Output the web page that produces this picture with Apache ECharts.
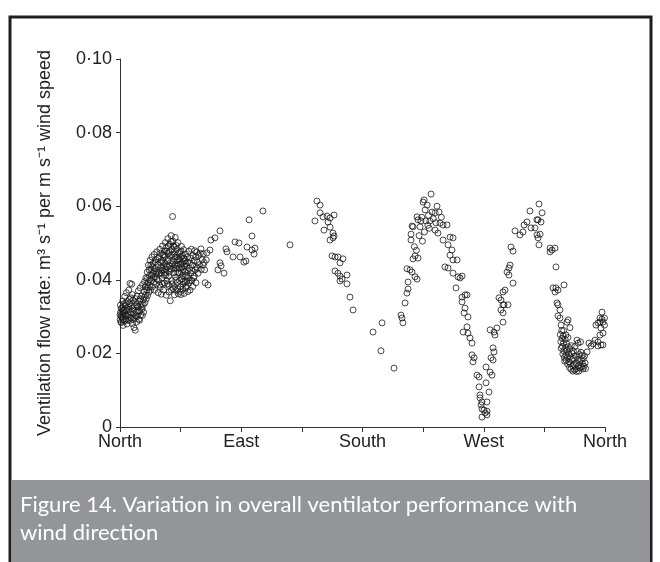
<!DOCTYPE html>
<html>
<head>
<meta charset="utf-8">
<script src="https://cdn.jsdelivr.net/npm/echarts@6/dist/echarts.min.js"></script>
<style>
  html, body { margin: 0; padding: 0; background: #fff; }
  #chart { width: 660px; height: 562px; }
</style>
</head>
<body>
<div id="chart"></div>
<script>
// Wind direction (degrees from North) and ventilation flow rate (m3/s per m/s wind speed)
const directionTicks = { 0: 'North', 90: 'East', 180: 'South', 270: 'West', 360: 'North' };

// Dense cluster just east of North
const northPoints = [
  [0.2, .0292], [0.5, .0312], [0.3, .0331], [0.8, .0301], [1.1, .0284], [1.4, .0323], [1.7, .0297],
  [2.0, .0342], [2.3, .0276], [2.6, .0309], [2.9, .0318], [3.3, .0288], [3.5, .0355], [3.8, .0330],
  [4.1, .0301], [4.4, .0293], [4.7, .0365], [5.0, .0316], [5.2, .0280], [5.6, .0341], [5.9, .0326],
  [6.2, .0305], [6.5, .0372], [6.9, .0289], [7.2, .0335], [7.4, .0390], [7.8, .0312], [8.1, .0351],
  [8.3, .0296], [8.7, .0388], [9.0, .0322], [9.3, .0281], [9.6, .0344], [10.0, .0307], [10.4, .0270],
  [10.6, .0329], [11.0, .0296], [11.3, .0263], [11.6, .0338], [12.0, .0312], [12.3, .0285], [12.7, .0356],
  [13.0, .0301], [13.3, .0327], [13.7, .0370], [14.0, .0293], [14.3, .0342], [14.7, .0315], [15.0, .0378],
  [15.4, .0304], [15.7, .0333], [16.0, .0356], [16.4, .0321], [16.8, .0387], [17.1, .0345], [17.5, .0312],
  [17.8, .0368], [18.2, .0395], [18.5, .0338], [18.9, .0359],
  [0.1, .0305], [0.6, .0285], [0.9, .0322], [1.3, .0300], [1.9, .0313], [2.4, .0292], [2.8, .0335],
  [3.1, .0308], [3.9, .0318], [4.5, .0337], [5.3, .0302], [5.8, .0291], [6.4, .0320], [7.0, .0347],
  [7.6, .0298], [8.5, .0328], [9.2, .0360], [9.8, .0292], [10.3, .0318], [11.2, .0349], [11.9, .0302],
  [12.5, .0332], [13.5, .0315], [14.5, .0290], [15.2, .0348], [15.9, .0325], [16.6, .0303], [17.3, .0332],
  [18.0, .0352], [18.7, .0381],
  [19.2, .0405], [19.5, .0348], [19.9, .0372], [20.2, .0421], [20.5, .0357], [20.8, .0392], [21.1, .0440],
  [21.4, .0366], [21.8, .0411], [22.1, .0385], [22.4, .0453], [22.7, .0372], [23.0, .0428], [23.3, .0398],
  [23.7, .0462], [24.0, .0381], [24.3, .0417], [24.6, .0445], [25.0, .0393], [25.3, .0469], [25.6, .0372],
  [26.0, .0431], [26.3, .0408], [26.6, .0455], [27.0, .0389], [27.3, .0476], [27.6, .0420], [28.0, .0441],
  [28.3, .0365], [28.6, .0398], [29.0, .0462], [29.3, .0417], [29.6, .0483], [30.0, .0380], [30.3, .0434],
  [30.6, .0361], [31.0, .0452], [31.3, .0405], [31.6, .0492], [32.0, .0427], [32.3, .0372], [32.6, .0468],
  [33.0, .0391], [33.3, .0445], [33.6, .0501], [34.0, .0413], [34.3, .0358], [34.6, .0478], [35.0, .0436],
  [35.3, .0389], [35.6, .0512], [36.0, .0455], [36.3, .0367], [36.6, .0421], [37.0, .0496], [37.3, .0343],
  [37.6, .0447], [38.0, .0520], [38.3, .0398], [38.6, .0468], [39.0, .0572], [39.2, .0505], [39.5, .0376],
  [39.8, .0431], [40.1, .0489], [40.4, .0359], [40.7, .0462], [41.0, .0515], [41.3, .0408], [41.6, .0371],
  [42.0, .0483], [42.3, .0437], [42.6, .0392], [43.0, .0501], [43.3, .0362], [43.6, .0456], [44.0, .0419],
  [44.3, .0475], [44.6, .0381], [45.0, .0443], [45.3, .0360], [45.6, .0491], [46.0, .0402], [46.3, .0466],
  [46.6, .0375], [47.0, .0428], [47.3, .0482], [47.6, .0363], [48.0, .0451], [48.3, .0395], [48.6, .0470],
  [49.0, .0378], [49.3, .0437], [49.6, .0412], [50.0, .0462], [50.3, .0368], [50.6, .0425], [51.0, .0478],
  [51.3, .0391], [51.6, .0446], [52.0, .0372], [52.4, .0459], [52.7, .0418], [53.0, .0483], [53.4, .0398],
  [53.8, .0440], [54.2, .0466], [54.6, .0405], [55.0, .0452], [55.4, .0479], [55.8, .0427], [56.2, .0462],
  [56.6, .0436], [57.0, .0475], [57.5, .0448], [58.0, .0418], [58.5, .0466], [59.0, .0441], [59.6, .0472],
  [60.3, .0428], [61.0, .0455], [61.8, .0470], [62.5, .0447], [63.2, .0392],
  [19.7, .0386], [20.4, .0404], [21.0, .0379], [21.6, .0427], [22.2, .0401], [22.9, .0440], [23.5, .0412],
  [24.1, .0435], [24.8, .0406], [25.4, .0424], [26.1, .0448], [26.8, .0416], [27.4, .0402], [28.1, .0458],
  [28.8, .0425], [29.4, .0386], [30.1, .0472], [30.8, .0418], [31.4, .0389], [32.1, .0448], [32.8, .0412],
  [33.5, .0463], [34.1, .0429], [34.8, .0397], [35.5, .0471], [36.1, .0410], [36.8, .0437], [37.5, .0465],
  [38.1, .0428], [38.8, .0389], [39.4, .0451], [40.0, .0419], [40.8, .0441], [41.5, .0399], [42.2, .0462],
  [42.9, .0418], [43.5, .0442], [44.2, .0398], [44.9, .0461], [45.5, .0421], [46.2, .0447], [46.9, .0395],
  [47.5, .0458], [48.2, .0421], [48.9, .0444], [49.5, .0396], [50.2, .0447], [50.9, .0405], [51.5, .0431],
  [52.2, .0398], [53.2, .0425], [54.0, .0382], [55.2, .0410], [56.4, .0392], [57.4, .0431],
  [30.4, .0446], [31.1, .0426], [31.8, .0468], [32.4, .0438], [33.1, .0478], [33.8, .0420], [34.4, .0488],
  [35.2, .0452], [35.9, .0492], [36.5, .0475], [37.2, .0430], [37.9, .0504], [38.5, .0482], [39.1, .0442],
  [39.7, .0492], [40.3, .0471], [41.1, .0432], [41.8, .0493], [42.5, .0452], [43.2, .0472], [43.9, .0431],
  [44.5, .0454], [45.2, .0478], [45.8, .0435], [46.5, .0412], [47.2, .0459], [47.9, .0438], [48.5, .0409],
  [36.2, .0385], [38.2, .0372], [40.6, .0381], [42.8, .0375], [44.8, .0368], [46.8, .0388], [49.2, .0382]
];

// Scattered readings between North-east and South-east
const eastPoints = [
  [60.1, .0484], [66.8, .0481], [74.2, .0533], [70.5, .0514], [67.5, .0508],
  [78.7, .0484], [79.4, .0476], [74.2, .0446], [72.7, .0427], [77.2, .0418],
  [75.0, .0438], [83.9, .0462], [85.4, .0503], [88.3, .0500], [89.1, .0462],
  [92.0, .0448], [93.5, .0451], [94.3, .0489], [95.8, .0563], [98.0, .0519],
  [98.0, .0481], [100.2, .0486], [99.5, .0470], [106.1, .0587], [126.2, .0495],
  [65.3, .0386], [64.5, .0473], [64.0, .0454], [61.7, .0440], [62.8, .0427]
];

// South-east to South
const southPoints = [
  [146.2, .0614], [148.5, .0603], [144.7, .0560], [148.5, .0582], [150.7, .0571],
  [153.7, .0573], [155.9, .0568], [158.9, .0576], [154.4, .0557], [155.9, .0543],
  [151.4, .0535], [158.1, .0527], [155.9, .0508], [158.1, .0514], [158.9, .0519],
  [157.4, .0465], [159.6, .0462], [161.8, .0462], [165.5, .0457], [163.3, .0446],
  [159.6, .0424], [161.8, .0418], [163.3, .0410], [164.8, .0402], [163.3, .0397],
  [168.5, .0413], [168.5, .0389], [170.7, .0353], [173.0, .0318],
  [187.8, .0258], [194.5, .0283], [193.7, .0207], [203.4, .0160]
];

// South-west peak and the dip towards West
const westPoints = [
  [208.6, .0304], [209.3, .0296], [210.0, .0283], [211.6, .0337], [213.0, .0364],
  [213.8, .0375], [213.8, .0394], [213.0, .0430], [215.3, .0427], [216.8, .0421],
  [219.0, .0408], [220.5, .0402], [217.5, .0457], [219.0, .0465], [221.2, .0459],
  [216.0, .0508], [216.0, .0524], [217.5, .0544], [216.8, .0546], [220.5, .0571],
  [221.2, .0563], [223.4, .0560], [222.7, .0544], [225.0, .0611], [225.7, .0617],
  [228.0, .0603], [230.9, .0633], [231.6, .0584], [233.9, .0582], [235.3, .0600],
  [236.8, .0584], [233.9, .0535], [236.0, .0527], [237.5, .0554], [239.8, .0549],
  [242.7, .0549], [239.8, .0508], [245.0, .0516], [247.2, .0514], [243.5, .0495],
  [246.4, .0481], [245.0, .0467], [247.2, .0454], [250.2, .0454], [241.2, .0435],
  [243.5, .0432], [247.2, .0418], [250.9, .0408], [252.4, .0405], [253.9, .0410],
  [249.4, .0378], [253.9, .0353], [256.1, .0359], [257.6, .0359], [253.9, .0340],
  [256.1, .0323], [255.4, .0310], [258.3, .0299], [254.7, .0258], [257.6, .0272],
  [258.3, .0255], [259.8, .0242], [261.3, .0228], [261.3, .0196], [262.8, .0188],
  [262.0, .0177], [265.0, .0141], [266.5, .0136], [266.5, .0109], [267.2, .0087],
  [267.2, .0079], [268.7, .0068], [268.0, .0060], [268.7, .0049], [270.2, .0046],
  [271.0, .0038], [268.7, .0027], [272.4, .0033], [272.4, .0043], [272.4, .0068],
  [226.5, .0590], [229.0, .0575], [227.0, .0560], [230.0, .0560], [224.0, .0570],
  [228.5, .0548], [232.5, .0566], [226.0, .0530], [229.5, .0540], [222.0, .0520],
  [224.5, .0505], [218.5, .0490], [220.0, .0480], [234.5, .0555], [238.5, .0570]
];

// West back up to the North-west peak
const westNorthPoints = [
  [271.7, .0120], [273.9, .0095], [271.7, .0163], [274.7, .0149], [276.1, .0141],
  [275.4, .0188], [276.9, .0182], [276.9, .0215], [277.6, .0204], [274.7, .0264],
  [277.6, .0258], [279.8, .0269], [278.3, .0250], [284.3, .0285], [281.3, .0351],
  [282.8, .0345], [284.3, .0332], [285.0, .0332], [282.8, .0318], [284.3, .0310],
  [288.0, .0332], [285.8, .0372], [284.3, .0367], [288.7, .0413], [287.3, .0421],
  [288.7, .0432], [289.5, .0440], [291.7, .0391], [290.2, .0489], [291.7, .0478],
  [293.2, .0533], [296.9, .0522], [299.1, .0530], [299.9, .0549], [302.1, .0557],
  [304.3, .0587], [305.1, .0541], [308.0, .0541], [309.5, .0563], [311.0, .0606],
  [310.3, .0563], [313.3, .0582], [312.5, .0557], [309.5, .0522], [310.3, .0514],
  [311.8, .0524], [311.0, .0495]
];

// North-west descent
const northWestPoints = [
  [319.2, .0486], [320.7, .0481], [322.9, .0486], [319.2, .0476], [323.6, .0435],
  [321.4, .0378], [323.6, .0378], [325.1, .0372], [322.9, .0367], [329.6, .0386],
  [324.4, .0337], [325.1, .0332], [326.6, .0318], [325.1, .0302], [326.6, .0296],
  [332.6, .0291], [331.8, .0285], [327.4, .0277], [334.0, .0270]
];

// Low cluster approaching North again
const lowPoints = [
  [326.8, .0251], [327.2, .0232], [327.5, .0214], [327.9, .0262], [328.2, .0241], [328.4, .0219],
  [328.7, .0198], [329.0, .0247], [329.2, .0228], [329.5, .0207], [329.8, .0189], [330.1, .0179],
  [330.4, .0238], [330.6, .0216], [330.9, .0196], [331.2, .0181], [331.5, .0226], [331.7, .0208],
  [332.0, .0189], [332.3, .0171], [332.5, .0243], [332.8, .0218], [333.1, .0199], [333.3, .0177],
  [333.6, .0162], [333.9, .0212], [334.2, .0191], [334.5, .0172], [334.7, .0157], [335.0, .0221],
  [335.3, .0201], [335.6, .0183], [335.9, .0166], [336.2, .0152], [336.5, .0206], [336.8, .0186],
  [337.1, .0168], [337.4, .0155], [337.7, .0219], [338.0, .0193], [338.3, .0174], [338.6, .0158],
  [338.9, .0151], [339.2, .0236], [339.5, .0205], [339.8, .0184], [340.0, .0228], [340.3, .0167],
  [340.6, .0152], [340.9, .0197], [341.2, .0178], [341.5, .0160], [341.8, .0231], [342.1, .0203],
  [342.4, .0183], [342.7, .0164], [343.0, .0194], [343.3, .0172], [343.7, .0158], [344.0, .0186],
  [344.4, .0165], [344.8, .0193], [345.2, .0174], [345.6, .0159], [329.3, .0262], [331.0, .0250]
];

// Rise on the final approach to North
const northEndPoints = [
  [346.7, .0204], [349.6, .0220], [352.6, .0236], [354.8, .0231], [357.0, .0223],
  [358.5, .0223], [354.8, .0220], [351.1, .0226], [348.1, .0228], [356.3, .0250],
  [358.5, .0255], [354.8, .0283], [356.3, .0285], [358.5, .0285], [353.3, .0277],
  [357.0, .0269], [359.6, .0277], [357.8, .0293], [359.6, .0296], [357.8, .0312],
  [356.3, .0296]
];

const allPoints = [].concat(
  northPoints, eastPoints, southPoints, westPoints,
  westNorthPoints, northWestPoints, lowPoints, northEndPoints
);

const chart = echarts.init(document.getElementById('chart'), null, { renderer: 'canvas' });

const axisFont = { fontFamily: 'Liberation Sans, Arial, sans-serif', fontSize: 18, color: '#222' };

chart.setOption({
  animation: false,
  backgroundColor: '#fff',
  grid: { left: 120, right: 55, top: 59, bottom: 135, containLabel: false },
  xAxis: {
    type: 'value', min: 0, max: 360, interval: 45,
    axisLine: { lineStyle: { color: '#333', width: 1 } },
    axisTick: { inside: false, length: 5, lineStyle: { color: '#333' } },
    splitLine: { show: false },
    axisLabel: Object.assign({
      margin: 6,
      formatter: v => directionTicks[v] || ''
    }, axisFont)
  },
  yAxis: {
    type: 'value', min: 0, max: 0.1, interval: 0.02,
    axisLine: { show: true, lineStyle: { color: '#333', width: 1 } },
    axisTick: { show: true, inside: false, length: 4, lineStyle: { color: '#333' } },
    splitLine: { show: false },
    axisLabel: Object.assign({
      margin: 8,
      formatter: v => v === 0 ? '0' : v.toFixed(2).replace('.', '\u00b7')
    }, axisFont)
  },
  series: [{
    type: 'scatter',
    data: allPoints,
    symbol: 'circle',
    symbolSize: 6,
    itemStyle: { color: 'rgba(255,255,255,0)', borderColor: '#1a1a1a', borderWidth: 1 }
  }],
  graphic: [
    {
      type: 'rect', z: -1,
      shape: { x: 10, y: 17, width: 641, height: 560 },
      style: { fill: 'none', stroke: '#1e1e1e', lineWidth: 3 }
    },
    {
      type: 'rect',
      shape: { x: 11.5, y: 480, width: 638, height: 90 },
      style: { fill: '#939598' }
    },
    {
      type: 'text', left: 20, top: 491,
      style: {
        text: 'Figure 14. Variation in overall ventilator performance with\nwind direction',
        fill: '#fff', font: '22px Lato, "Open Sans", sans-serif', lineHeight: 28
      }
    },
    {
      type: 'text',
      x: 45, y: 243, rotation: Math.PI / 2,
      style: {
        text: 'Ventilation flow rate: m\u00b3 s\u207b\u00b9 per m s\u207b\u00b9 wind speed',
        fill: '#222', font: '18px "Liberation Sans", Arial, sans-serif',
        align: 'center', verticalAlign: 'middle'
      }
    }
  ]
});
</script>
</body>
</html>
